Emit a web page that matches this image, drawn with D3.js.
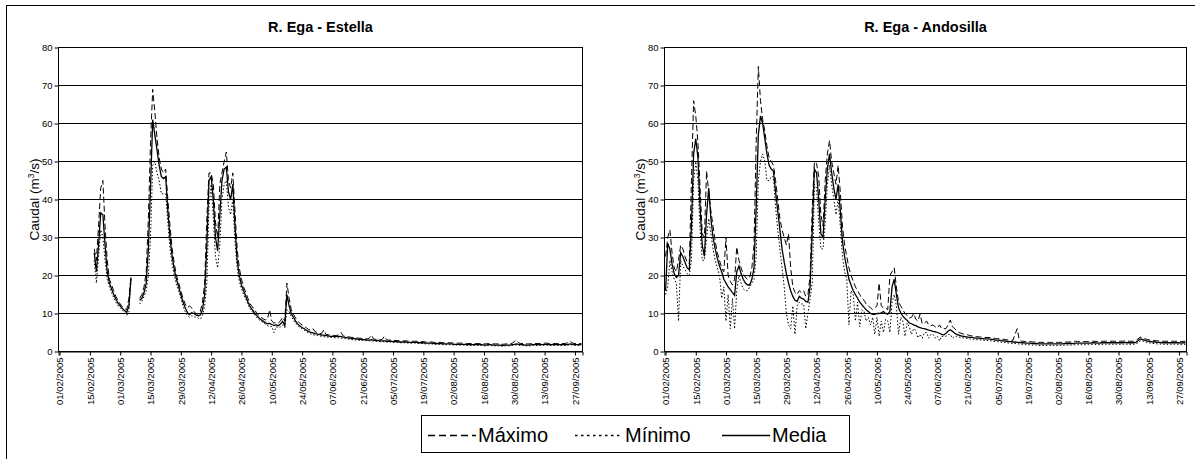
<!DOCTYPE html>
<html>
<head>
<meta charset="utf-8">
<script src="https://cdn.jsdelivr.net/npm/d3@7/dist/d3.min.js"></script>
<style>
  body { margin: 0; background: #fff; }
  svg text { font-family: Arial, "Liberation Sans", Arimo, Helvetica, sans-serif !important; fill: #000; }
</style>
</head>
<body>
<svg id="chart" width="1195" height="459"></svg>
<script>
// daily categories 01/02/2005 .. 30/09/2005
const dates = d3.utcDay.range(new Date(Date.UTC(2005, 1, 1)), new Date(Date.UTC(2005, 9, 1)));
const yTicks = [0, 10, 20, 30, 40, 50, 60, 70, 80];
const legendNames = ['Máximo', 'Mínimo', 'Media'];

// R. Ega - Estella (m3/s), one row = 14 days
const estellaMedia = [
  null, null, null, null, null, null, null, null, null, null, null, null, null, null,
  null, null, 26, 21, 28, 36.5, 36, 28, 21, 18, 16.5, 15, 13.8, 12.7,
  12, 11.3, 10.8, 10.3, 12, 19.5, null, null, null, 13.5, 14, 15.5, 18, 27,
  43, 61, 57, 53, 49, 46, 45.5, 46, 37, 30, 25, 21.5, 19, 17,
  15, 13, 11.5, 10.3, 9.7, 10.2, 10, 9.6, 9.4, 9.6, 11, 15, 28, 45,
  46, 40, 30, 26.5, 36, 45, 48, 48.5, 42, 40, 44, 33, 24, 20,
  17.5, 16, 14.5, 13, 11.8, 11, 10.2, 9.5, 8.9, 8.4, 8, 7.6, 7.3, 7.4,
  7.1, 6.9, 7, 6.8, 7.2, 7.9, 6.8, 15, 12, 10, 9, 8, 7.2, 6.7,
  6.3, 6, 5.6, 5.3, 5, 4.9, 4.7, 4.6, 4.5, 4.3, 4.3, 4.2, 4.1, 4,
  4, 3.9, 4, 4, 3.9, 3.8, 3.7, 3.6, 3.5, 3.4, 3.4, 3.3, 3.2, 3.2,
  3.1, 3.1, 3, 3, 3.1, 3, 2.9, 2.9, 2.8, 2.8, 2.8, 2.7, 2.7, 2.7,
  2.6, 2.6, 2.6, 2.5, 2.5, 2.5, 2.5, 2.4, 2.4, 2.4, 2.4, 2.4, 2.3, 2.3,
  2.3, 2.2, 2.2, 2.2, 2.2, 2.1, 2.1, 2.1, 2.1, 2, 2, 2, 2, 2,
  1.9, 1.9, 1.9, 1.9, 1.9, 1.9, 1.8, 1.8, 1.8, 1.8, 1.8, 1.8, 1.8, 1.8,
  1.7, 1.7, 1.8, 1.8, 1.7, 1.7, 1.7, 1.7, 1.6, 1.6, 1.7, 1.7, 1.7, 1.8,
  1.9, 2, 1.9, 1.8, 1.8, 1.7, 1.7, 1.7, 1.8, 1.8, 1.8, 1.8, 1.8, 1.8,
  1.9, 1.9, 1.8, 1.8, 1.8, 1.8, 1.8, 1.8, 1.8, 1.8, 1.8, 1.9, 2, 1.9,
  1.8, 1.8, 1.8, 1.8
];
const estellaMax = [
  null, null, null, null, null, null, null, null, null, null, null, null, null, null,
  null, null, 27, 24, 33, 43, 45, 33, 24, 19, 17.5, 16, 14.5, 13.5,
  12.5, 11.8, 11.3, 11, 14, 20, null, null, null, 14, 15, 17, 21, 35,
  55, 69, 63, 56, 51, 48, 47, 48, 40, 33, 27, 23, 20, 18,
  16, 14, 12.5, 11.5, 12, 11.5, 10.5, 10, 9.8, 10.5, 13, 18, 35, 47,
  47, 44, 34, 30, 44, 47, 50, 52.5, 45, 43, 47, 37, 27, 22,
  19, 17, 15.5, 14, 12.5, 11.8, 11, 10.2, 9.5, 9, 8.6, 8.3, 8.5, 11,
  8, 7.5, 7.6, 7.5, 8, 9, 8, 18, 14, 11, 9.8, 8.8, 8, 7.4,
  7, 6.6, 6.2, 5.8, 5.6, 6, 5.2, 5, 4.8, 4.7, 5.7, 4.5, 4.4, 4.3,
  4.3, 4.2, 4.2, 4.4, 5, 4.1, 4, 3.9, 3.8, 3.7, 3.7, 3.6, 3.5, 3.5,
  3.4, 3.4, 3.3, 3.5, 4.3, 3.3, 3.2, 3.2, 3.1, 3.2, 4, 3.1, 3, 3,
  2.9, 2.9, 2.9, 2.8, 2.8, 2.8, 2.8, 2.7, 2.7, 2.7, 2.7, 2.7, 2.6, 2.6,
  2.6, 2.5, 2.5, 2.5, 2.5, 2.4, 2.4, 2.4, 2.4, 2.3, 2.3, 2.3, 2.3, 2.3,
  2.2, 2.2, 2.2, 2.2, 2.2, 2.2, 2.1, 2.1, 2.1, 2.1, 2.1, 2.1, 2.1, 2.1,
  2, 2, 2.1, 2.1, 2, 2, 2, 2, 1.9, 1.9, 2, 2, 2, 2.2,
  2.6, 3, 2.3, 2.1, 2.1, 2, 2, 2, 2.1, 2.1, 2.1, 2.1, 2.1, 2.1,
  2.2, 2.2, 2.1, 2.1, 2.1, 2.1, 2.1, 2.1, 2.1, 2.1, 2.2, 2.3, 2.6, 2.2,
  2.1, 2.1, 2.1, 2.1
];
const estellaMin = [
  null, null, null, null, null, null, null, null, null, null, null, null, null, null,
  null, null, 24, 18, 25, 32, 30, 24, 19, 17, 15.5, 14.2, 13, 12,
  11.5, 10.8, 10.2, 9.5, 10.5, 19, null, null, null, 12.5, 13.2, 14.5, 16, 20,
  30, 49, 50, 47, 45, 41.5, 41.5, 41.5, 34, 27, 23, 20, 17.5, 16,
  14, 12, 10.5, 9.5, 9, 9.4, 9.2, 9, 8.8, 8.5, 9.5, 12, 18, 38,
  44, 35, 25, 22, 28, 40, 44, 45, 38, 36, 40, 29, 22, 18.5,
  16.5, 15, 13.8, 12.3, 11.2, 10.5, 9.7, 9, 8.4, 8, 7.6, 7.2, 6.8, 6.5,
  6.6, 5, 6.5, 6.3, 6.5, 7, 6.3, 11, 10.5, 9.2, 8.3, 7.5, 6.8, 6.3,
  6, 5.6, 5.2, 4.9, 4.6, 4.4, 4.3, 4.2, 4.1, 4, 3.9, 3.8, 3.8, 3.7,
  3.7, 3.6, 3.6, 3.6, 3.5, 3.5, 3.4, 3.3, 3.2, 3.1, 3.1, 3, 3, 2.9,
  2.9, 2.9, 2.8, 2.8, 2.8, 2.8, 2.7, 2.7, 2.6, 2.6, 2.6, 2.5, 2.5, 2.5,
  2.4, 2.4, 2.4, 2.3, 2.3, 2.3, 2.3, 2.2, 2.2, 2.2, 2.2, 2.2, 2.1, 2.1,
  2.1, 2, 2, 2, 2, 1.9, 1.9, 1.9, 1.9, 1.8, 1.8, 1.8, 1.8, 1.8,
  1.7, 1.7, 1.7, 1.7, 1.7, 1.7, 1.6, 1.6, 1.6, 1.6, 1.6, 1.6, 1.6, 1.6,
  1.5, 1.5, 1.6, 1.6, 1.5, 1.5, 1.5, 1.5, 1.4, 1.4, 1.5, 1.5, 1.5, 1.6,
  1.7, 1.7, 1.7, 1.6, 1.6, 1.5, 1.5, 1.5, 1.6, 1.6, 1.6, 1.6, 1.6, 1.6,
  1.7, 1.7, 1.6, 1.6, 1.6, 1.6, 1.6, 1.6, 1.6, 1.6, 1.6, 1.7, 1.8, 1.7,
  1.6, 1.6, 1.6, 1.6
];

// R. Ega - Andosilla (m3/s)
const andosillaMedia = [
  16, 28.5, 27, 23, 20.5, 19.5, 20, 26, 25, 23.5, 22, 21.5, 33, 52,
  56, 51, 38, 28, 25, 36, 43, 35, 30, 27, 24.5, 22.5, 21, 19,
  18, 17, 16.3, 15.5, 14.8, 21, 22.5, 20.5, 19, 18, 17.5, 17.5, 19, 22,
  38, 57, 62, 60, 56, 52, 49, 48, 47.5, 42, 37, 32, 27, 23.5,
  20.5, 18, 16, 14.5, 13.5, 13.2, 14.5, 14, 13.8, 13.2, 13, 17, 32, 48,
  47, 40, 31, 30, 40, 48, 52, 47, 43, 40, 44, 37, 29, 25,
  22, 19, 17.5, 16, 15, 14, 13, 12.3, 11.6, 11, 10.5, 10, 9.8, 9.8,
  10, 10, 10.2, 10.5, 10, 9.8, 10.5, 17, 19, 15, 11.5, 10.2, 9.3, 8.7,
  8.2, 7.5, 7.3, 7, 6.8, 6.5, 6.3, 6.1, 6, 5.8, 5.6, 5.5, 5.3, 5.2,
  5, 4.8, 4.5, 4.4, 4.8, 5.4, 5.7, 5.3, 4.8, 4.5, 4.3, 4.1, 4, 3.9,
  3.8, 3.7, 3.7, 3.6, 3.5, 3.5, 3.4, 3.4, 3.3, 3.3, 3.3, 3.2, 3.1, 3,
  3, 2.9, 2.8, 2.8, 2.7, 2.6, 2.6, 2.5, 2.5, 2.4, 2.4, 2.3, 2.3, 2.2,
  2.2, 2.2, 2.1, 2.1, 2.1, 2, 2, 2, 2, 2, 2, 2, 2, 2,
  2, 2, 2, 2.1, 2.1, 2.1, 2.1, 2.1, 2.2, 2.2, 2.2, 2.2, 2.2, 2.2,
  2.2, 2.2, 2.3, 2.3, 2.2, 2.2, 2.3, 2.3, 2.3, 2.3, 2.3, 2.3, 2.3, 2.3,
  2.3, 2.3, 2.3, 2.4, 2.3, 2.3, 2.3, 2.3, 2.4, 2.8, 3.3, 3.2, 3, 2.8,
  2.7, 2.6, 2.5, 2.5, 2.4, 2.4, 2.3, 2.3, 2.3, 2.3, 2.3, 2.3, 2.3, 2.3,
  2.3, 2.2, 2.3, 2.3
];
const andosillaMax = [
  25, 30, 32, 26, 22, 21, 24, 28, 27, 25, 23.5, 23, 45, 66,
  62, 55, 43, 31, 30, 47.5, 42, 37, 33, 29, 26, 24, 22, 21,
  30, 20, 18.5, 17.5, 19, 27.5, 24, 22, 20.5, 19.5, 19, 19.5, 22, 28,
  55, 75, 66, 61, 58, 54, 51, 50, 49, 45, 40, 35, 32, 30,
  28, 31, 22, 17, 15.5, 15, 16, 15.5, 16, 14.5, 15, 20, 38, 50,
  49.5, 46, 36, 33, 45, 52, 55.5, 50, 47, 44, 49, 42, 33, 28,
  25, 22, 20, 18.5, 17, 16, 15, 14, 13.5, 12.5, 12, 11.5, 11, 11.5,
  12, 18, 12, 11.5, 11.5, 11, 20, 21, 22, 17, 13, 12, 11, 10,
  9.5, 8.8, 9, 10, 8.5, 8, 9.9, 7.3, 7.5, 8, 7, 6.8, 7, 6.5,
  6.2, 7, 6, 6, 6, 7, 8.3, 6.5, 6, 5.5, 5, 4.8, 4.6, 4.5,
  4.4, 4.2, 4.1, 4, 3.9, 3.9, 3.8, 3.8, 3.7, 3.7, 3.7, 3.6, 3.5, 3.4,
  3.4, 3.3, 3.2, 3.2, 3.1, 3, 3, 2.9, 4.5, 6, 3, 2.7, 2.7, 2.6,
  2.6, 2.6, 2.5, 2.5, 2.5, 2.4, 2.4, 2.4, 2.4, 2.4, 2.4, 2.4, 2.4, 2.4,
  2.4, 2.4, 2.4, 2.5, 2.5, 2.5, 2.5, 2.6, 2.7, 2.6, 2.6, 2.6, 2.6, 2.6,
  2.6, 2.6, 2.7, 2.7, 2.6, 2.6, 2.7, 2.7, 2.7, 2.7, 2.7, 2.7, 2.7, 2.7,
  2.7, 2.7, 2.7, 2.8, 2.7, 2.7, 2.7, 2.7, 2.9, 3.3, 3.8, 3.6, 3.4, 3.2,
  3.1, 3, 2.9, 2.9, 2.8, 2.8, 2.7, 2.7, 2.7, 2.7, 2.7, 2.7, 2.7, 2.7,
  2.7, 2.6, 2.7, 2.7
];
const andosillaMin = [
  15, 17, 24, 21, 19, 18, 8, 24, 22.5, 21.5, 20.5, 20, 24, 45,
  50, 45, 32, 24, 24, 30, 35, 31, 27, 24, 22, 20, 14, 17,
  8, 15, 6, 14, 6, 16, 20, 18, 16.5, 16, 16, 17, 18, 19,
  25, 45, 50, 52, 50, 45, 45, 46, 46, 38, 32, 27, 22, 17,
  10, 7, 6, 12, 4.5, 12, 13, 12.5, 12.5, 6, 10, 14, 18, 44,
  43, 34, 27, 27, 34, 44, 49, 44, 40, 36, 40, 33, 25, 21,
  19, 7, 16, 15, 8, 13, 6.5, 11, 10.5, 8, 9, 7, 9, 4.5,
  9, 4, 8, 5, 8.5, 8, 5, 13, 15, 12, 4.5, 9, 8, 4,
  7.5, 6.5, 4.5, 6, 5.5, 3.6, 4.5, 3.5, 5, 5, 3.5, 4.5, 4.5, 3.5,
  4, 2.8, 4, 4, 4, 4.5, 4.5, 3.5, 4, 4, 3.8, 3.7, 3.6, 3.5,
  3.4, 3.3, 3.3, 3.2, 3.1, 3.1, 3, 3, 2.9, 2.9, 2.9, 2.8, 2.7, 2.6,
  2.6, 2.5, 2.4, 2.4, 2.3, 2.2, 2.2, 2.1, 2.1, 2, 2, 1.9, 1.9, 1.8,
  1.8, 1.8, 1.7, 1.7, 1.7, 1.6, 1.6, 1.6, 1.6, 1.6, 1.6, 1.6, 1.6, 1.6,
  1.6, 1.6, 1.6, 1.7, 1.7, 1.7, 1.7, 1.7, 1.8, 1.8, 1.8, 1.8, 1.8, 1.8,
  1.8, 1.8, 1.9, 1.9, 1.8, 1.8, 1.9, 1.9, 1.9, 1.9, 1.9, 1.9, 1.9, 1.9,
  1.9, 1.9, 1.9, 2, 1.9, 1.9, 1.9, 1.9, 2, 2.3, 2.8, 2.8, 2.6, 2.4,
  2.3, 2.2, 2.1, 2.1, 2, 2, 1.9, 1.9, 1.9, 1.9, 1.9, 1.9, 1.9, 1.9,
  1.9, 1.8, 1.9, 1.9
];

const svg = d3.select('#chart');

// outer chart border (clipped on right/bottom like the source)
svg.append('rect')
  .attr('x', 6.5).attr('y', 5.5)
  .attr('width', 1200).attr('height', 460)
  .attr('fill', 'none').attr('stroke', '#000');

const dash = { max: '6,3', min: '1.5,2', media: null };

function drawPanel(opts) {
  const top = 47.5, bottom = 351.5;
  const x = d3.scaleTime()
    .domain([d3.utcHour.offset(dates[0], -12), d3.utcHour.offset(dates[dates.length - 1], 12)])
    .range([opts.x0, opts.x1]);
  const y = d3.scaleLinear().domain([0, 80]).range([bottom, top]);

  const g = svg.append('g');

  // gridlines
  g.selectAll('.grid')
    .data(yTicks.filter(v => v > 0))
    .enter().append('line')
    .attr('x1', opts.x0).attr('x2', opts.x1)
    .attr('y1', d => y(d)).attr('y2', d => y(d))
    .attr('stroke', '#000').attr('stroke-width', 1);

  // plot border
  g.append('rect')
    .attr('x', opts.x0).attr('y', top)
    .attr('width', opts.x1 - opts.x0).attr('height', bottom - top)
    .attr('fill', 'none').attr('stroke', '#000');

  // y axis
  const ya = g.append('g')
    .attr('transform', `translate(${opts.x0},0)`)
    .call(d3.axisLeft(y).tickValues(yTicks).tickSize(4).tickPadding(2));
  ya.select('.domain').remove();
  ya.selectAll('text').style('font-size', '9.5px');

  // x axis
  const xTicks = dates.filter((d, i) => i % 14 === 0);
  const xa = g.append('g')
    .attr('transform', `translate(0,${bottom})`)
    .call(d3.axisBottom(x).tickValues(xTicks).tickSize(4).tickFormat(d3.utcFormat('%d/%m/%Y')));
  xa.select('.domain').attr('stroke', '#000');
  xa.selectAll('text')
    .style('font-size', '9.5px')
    .attr('transform', 'rotate(-90)')
    .attr('text-anchor', 'end')
    .attr('x', -6).attr('y', 0)
    .attr('dy', '0.35em');

  // series
  const line = d3.line()
    .defined(d => d.v !== null)
    .x(d => x(d.date))
    .y(d => y(d.v));

  const series = [
    { values: opts.max, dash: dash.max, w: 1 },
    { values: opts.min, dash: dash.min, w: 1 },
    { values: opts.media, dash: dash.media, w: 1.3 }
  ];
  series.forEach(s => {
    g.append('path')
      .datum(dates.map((d, i) => ({ date: d, v: s.values[i] })))
      .attr('fill', 'none')
      .attr('stroke', '#000')
      .attr('stroke-width', s.w)
      .attr('stroke-dasharray', s.dash)
      .attr('d', line);
  });

  // title
  g.append('text')
    .attr('x', (opts.x0 + opts.x1) / 2).attr('y', 32)
    .attr('text-anchor', 'middle')
    .style('font-size', '14.5px').style('font-weight', 'bold')
    .text(opts.title);

  // y label
  const yl = g.append('text')
    .attr('transform', `translate(${opts.x0 - 20},${(top + bottom) / 2}) rotate(-90)`)
    .attr('text-anchor', 'middle')
    .style('font-size', '13.5px');
  yl.append('tspan').text('Caudal (m');
  yl.append('tspan').attr('dy', -5).style('font-size', '8.5px').text('3');
  yl.append('tspan').attr('dy', 5).text('/s)');
}

drawPanel({ title: 'R. Ega - Estella', x0: 58.5, x1: 582.5, media: estellaMedia, max: estellaMax, min: estellaMin });
drawPanel({ title: 'R. Ega - Andosilla', x0: 664.5, x1: 1186.5, media: andosillaMedia, max: andosillaMax, min: andosillaMin });

// legend
const legend = svg.append('g');
legend.append('rect')
  .attr('x', 421.5).attr('y', 415.5)
  .attr('width', 428).attr('height', 37)
  .attr('fill', '#fff').attr('stroke', '#000');

const legendItems = [
  { name: legendNames[0], x: 428, dash: '7,4' },
  { name: legendNames[1], x: 575, dash: '2.5,3.5' },
  { name: legendNames[2], x: 722, dash: null }
];
legendItems.forEach(it => {
  legend.append('line')
    .attr('x1', it.x).attr('x2', it.x + 48)
    .attr('y1', 435.5).attr('y2', 435.5)
    .attr('stroke', '#000').attr('stroke-width', 1.5)
    .attr('stroke-dasharray', it.dash);
  legend.append('text')
    .attr('x', it.x + 50).attr('y', 441.5)
    .style('font-size', '20px')
    .text(it.name);
});
</script>
</body>
</html>
